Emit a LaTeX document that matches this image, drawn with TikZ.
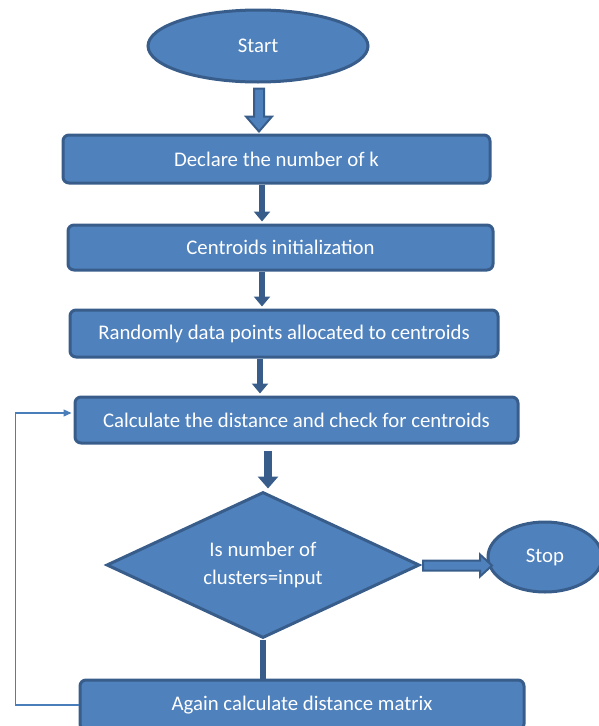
\documentclass[tikz,border=0pt]{standalone}
\usepackage{fontspec}
\setmainfont{Carlito}
\usetikzlibrary{shapes.geometric,arrows.meta,calc}
\definecolor{boxfill}{HTML}{4F81BD}
\definecolor{boxline}{HTML}{385D8A}
\definecolor{fbline}{HTML}{4A7EBB}
\begin{document}
\begin{tikzpicture}[x=1pt,y=-1pt,
  every node/.style={font=\fontsize{20.8}{28}\selectfont, text=white},
  basebox/.style={fill=boxfill, draw=boxline, line width=3pt, inner sep=0pt},
  procbox/.style={basebox, rectangle, rounded corners=6pt},
  termbox/.style={basebox, ellipse},
  decbox/.style={basebox, diamond, aspect=2.14, align=center},
  thk/.style={draw=boxline, line width=6pt, -{Triangle[width=16pt,length=10pt]}},
  thkline/.style={draw=boxline, line width=6pt},
  blockarrow/.style={fill=boxfill, draw=boxline, line width=2pt, line join=miter},
  fb/.style={draw=fbline, line width=1.2pt, -{Triangle[width=7pt,length=8pt]}}]
\useasboundingbox (0,0) rectangle (599,726);
\node[termbox, minimum width=220pt, minimum height=72pt] (start) at (258,46) {Start};
\node[procbox, minimum width=427pt, minimum height=48pt] (b1) at (276.5,159) {Declare the number of k};
\node[procbox, minimum width=425pt, minimum height=45pt] (b2) at (280.5,247.5) {Centroids initialization};
\node[procbox, minimum width=428pt, minimum height=47pt] (b3) at (284,333.5) {Randomly data points allocated to centroids};
\node[procbox, minimum width=443pt, minimum height=46pt] (b4) at (296.5,420) {Calculate the distance and check for centroids};
\node[decbox, minimum width=313pt, minimum height=146pt] (dec) at (263,565) {Is number of\\clusters=input};
\node[termbox, minimum width=114pt, minimum height=70pt] (stop) at (545,557) {Stop};
\node[procbox, minimum width=444pt, minimum height=50pt] (b5) at (302,705) {Again calculate distance matrix};
% block arrow from start
\draw[blockarrow] ([shift={(-4,5)}]start.south) -- ++(10,0) -- ++(0,28) -- ++(8,0) -- ++(-13,15) -- ++(-13,-15) -- ++(8,0) -- cycle;
% thick arrows
\draw[thk] ([xshift=-14.5pt]b1.south) -- ([xshift=-18.5pt,yshift=2pt]b2.north);
\draw[thk] ([xshift=-18.5pt]b2.south) -- ([xshift=-22pt,yshift=2pt]b3.north);
\draw[thk] ([xshift=-24pt]b3.south) -- ([xshift=-36.5pt,yshift=2pt]b4.north);
\draw[draw=boxline, line width=8pt, -{Triangle[width=20pt,length=12pt]}] ([xshift=-28.5pt,yshift=-6pt]b4.south) -- ([xshift=5pt,yshift=2pt]dec.north);
\draw[thkline] (dec.south) -- (dec.south |- b5.north);
% hollow arrow to stop
\draw[blockarrow] ([shift={(2,-4.5)}]dec.east) -- ++(57,0) -- ++(0,-6) -- ++(12,11) -- ++(-12,11) -- ++(0,-6) -- ++(-57,0) -- cycle;
% feedback
\draw[fb] (b5.west) -- ++(-63,0) |- ([xshift=-2pt,yshift=7pt]b4.west);
\end{tikzpicture}
\end{document}
